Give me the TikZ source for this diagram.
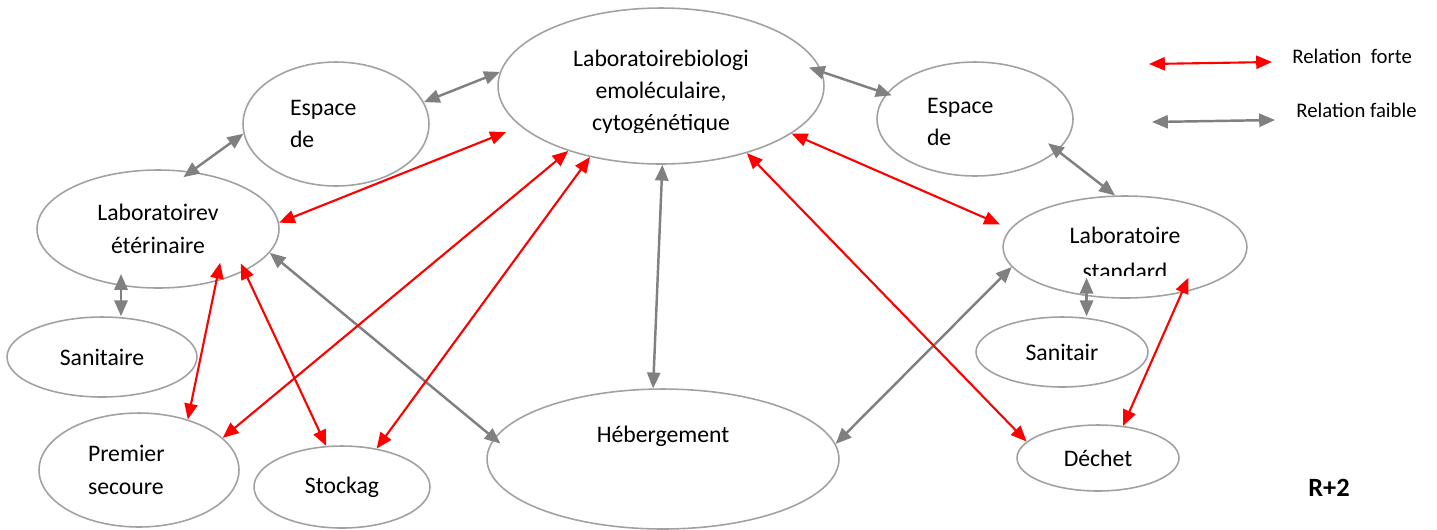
\documentclass[tikz,border=0pt]{standalone}
\usepackage{fontspec}
\setmainfont{Carlito}
\usepackage{trimclip}
\usetikzlibrary{arrows.meta,shapes.geometric}

\begin{document}
\begin{tikzpicture}[
  x=0.02cm, y=-0.02cm,
  font=\fontsize{13.5pt}{18.4pt}\selectfont,
  >={Triangle[length=9pt, width=7.5pt]},
  zone/.style   ={ellipse, draw=black!37, line width=0.9pt, inner sep=0pt, align=center},
  forte/.style  ={<->, red, line width=1.2pt},
  faible/.style ={<->, gray, line width=1.4pt},
  legende/.style={anchor=west, inner sep=0pt, font=\fontsize{11.8pt}{14pt}\selectfont},
]
\useasboundingbox (0,0) rectangle (1437,529);

%% ---------------- espaces ----------------
\node[zone, minimum width=6.52cm, minimum height=3.12cm] (labbio) at (661,86)
  {\rule{0pt}{15pt}Laboratoirebiologi\\ emoléculaire,\\ \clipbox{0pt 1.5pt 0pt 0pt}{cytogénétique}};
\node[zone, minimum width=3.72cm, minimum height=2.48cm, text width=1.84cm, align=left] (espL) at (336,124)
  {Espace\\ de};
\node[zone, minimum width=4.84cm, minimum height=2.36cm] (vet) at (158,229)
  {Laboratoirev\\ étérinaire};
\node[zone, minimum width=3.80cm, minimum height=1.60cm] (sanL) at (102,357) {Sanitaire};
\node[zone, minimum width=4.00cm, minimum height=2.28cm, text width=2.04cm, align=left] (premier) at (139,470)
  {Premier\\ secoure};
\node[zone, minimum width=3.52cm, minimum height=1.64cm] (stock) at (342,487) {Stockag};
\node[zone, minimum width=7.04cm, minimum height=2.80cm, text height=0.2cm, text depth=0.88cm] (heberg) at (663,459)
  {Hébergement};
\node[zone, minimum width=3.92cm, minimum height=2.28cm, text width=1.92cm, align=left] (espR) at (975,119)
  {\rule{0pt}{12pt}Espace\\ de};
\node[zone, minimum width=4.88cm, minimum height=2.04cm] (labstd) at (1125,247)
  {\rule{0pt}{14pt}Laboratoire\\ \clipbox{0pt 2.3pt 0pt 0pt}{standard}};
\node[zone, minimum width=3.44cm, minimum height=1.40cm] (sanR) at (1062,352) {Sanitair};
\node[zone, minimum width=3.24cm, minimum height=1.32cm] (dechet) at (1098,458) {Déchet};

%% ---------------- relations faibles ----------------
\draw[faible] (espL.14) -- (labbio.175);
\draw[faible, shorten <=-5.5pt] (vet.60) -- (espL.186);
\draw[faible, shorten <=-6.8pt] (vet.237) -- (vet.237 |- sanL.north);
\draw[faible, shorten >=-4.7pt] (vet.348) -- (heberg.173);
\draw[faible] (labbio.271) -- (heberg.98);
\draw[faible, shorten <=-7.9pt, shorten >=-3.2pt] (labbio.5) -- (espR.164);
\draw[faible, shorten <=-6.9pt] (espR.339) -- (labstd.101);
\draw[faible] (labstd.190) -- (heberg.5);
\draw[faible, shorten <=-10.5pt] (labstd.232) -- (labstd.232 |- sanR.north);

%% ---------------- relations fortes ----------------
\draw[forte, shorten <=8.8pt] (labbio.196) -- (vet.3);
\draw[forte] (labbio.215) -- (premier.21);
\draw[forte] (labbio.225) -- (stock.48);
\draw[forte, shorten <=-10.9pt] (vet.318) -- (premier.46);
\draw[forte, shorten <=-4.8pt] (vet.334) -- (stock.111);
\draw[forte, shorten >=6.3pt] (labbio.340) -- (labstd.171);
\draw[forte] (labbio.322) -- (dechet.167);
\draw[forte, shorten <=-9.5pt] (labstd.321) -- (dechet.52);

%% ---------------- legende ----------------
\coordinate (forteG) at (1149,64);
\coordinate (forteD) at (1272,62);
\draw[forte] (forteG) -- (forteD);
\node[legende] (forteT) at (1292,56) {Relation~~forte};

\coordinate (faibleG) at (1152,122);
\coordinate (faibleD) at (1275,120);
\draw[faible] (faibleG) -- (faibleD);
\node[legende] (faibleT) at (1296,110) {Relation faible};

\node[font=\fontsize{15pt}{18pt}\selectfont\bfseries] (niveau) at (1329,488) {R+2};

\end{tikzpicture}
\end{document}
